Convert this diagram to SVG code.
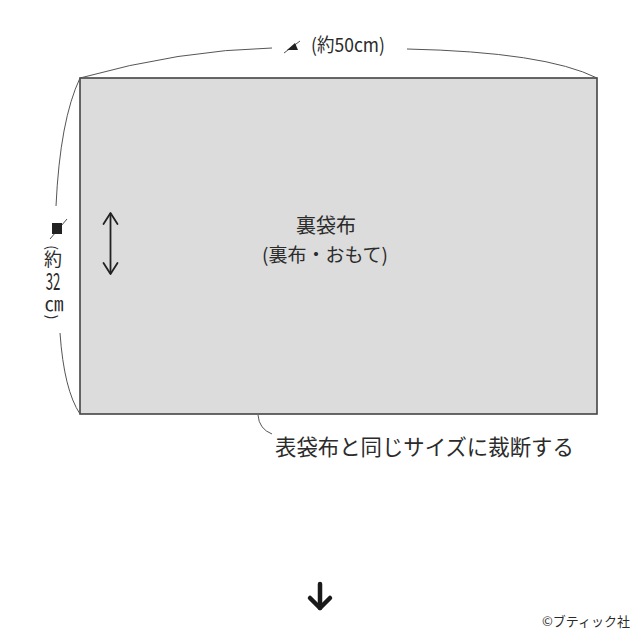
<svg xmlns="http://www.w3.org/2000/svg" width="640" height="640" viewBox="0 0 640 640">
<style>
.t{font-family:"Noto Sans CJK JP","Noto Sans",sans-serif;fill:#2b2b2b}
.dim{fill:none;stroke:#555;stroke-width:1}
.mk{stroke:#222;stroke-width:0.8}
</style>
<rect width="640" height="640" fill="#fff"/>
<g id="fabric">
<rect x="80" y="78" width="517" height="336" fill="#dcdcdc" stroke="#444" stroke-width="1.6"/>
<text class="t" x="326" y="233" font-size="20" text-anchor="middle">裏袋布</text>
<text class="t" x="325" y="262" font-size="19" text-anchor="middle">(裏布・おもて)</text>
</g>
<g id="grain-arrow" fill="none" stroke="#222" stroke-width="1.8" stroke-linecap="round" stroke-linejoin="round">
<line x1="110.5" y1="214" x2="110.5" y2="273"/>
<polyline points="103.5,224 110.5,213 117.5,224"/>
<polyline points="103.5,263 110.5,274 117.5,263"/>
</g>
<g id="connectors">
<path class="dim" d="M80,78 Q180,50 272,48"/>
<path class="dim" d="M407,49 Q545,52 597,78"/>
<path class="dim" d="M80,78 Q60,120 56,206"/>
<path class="dim" d="M60,333 Q64,390 80,414"/>
<path class="dim" d="M258,415 Q259,429 272,434"/>
</g>
<g id="width-label">
<polygon points="287,50 295,43 298,50" fill="#222"/>
<line class="mk" x1="284" y1="53" x2="300" y2="41"/>
<text class="t" font-size="19" text-anchor="middle" transform="translate(348,52) scale(0.92,1)">(約50cm)</text>
</g>
<g id="height-label">
<rect x="52" y="223" width="10" height="11" fill="#222"/>
<line class="mk" x1="50" y1="239" x2="67" y2="219"/>
<text class="t" font-size="14" text-anchor="middle" dominant-baseline="central" transform="translate(53,247.5) rotate(90)">(</text>
<text class="t" x="53" y="266" font-size="18" text-anchor="middle">約</text>
<text class="t" font-size="24" text-anchor="middle" transform="translate(53,290) scale(0.55,1)">32</text>
<text class="t" x="54" y="311" font-size="19" text-anchor="middle">㎝</text>
<text class="t" font-size="14" text-anchor="middle" dominant-baseline="central" transform="translate(53,317) rotate(90)">)</text>
</g>
<g id="note">
<text class="t" x="275" y="455" font-size="21.4">表袋布と同じサイズに裁断する</text>
</g>
<g id="down-arrow" fill="none" stroke="#1a1a1a" stroke-width="4.5" stroke-linecap="round" stroke-linejoin="round">
<line x1="320" y1="584" x2="320" y2="608"/>
<polyline points="310,598 320,608 330,598"/>
</g>
<g id="credit">
<text class="t" x="542" y="626" font-size="13">©ブティック社</text>
</g>
</svg>
